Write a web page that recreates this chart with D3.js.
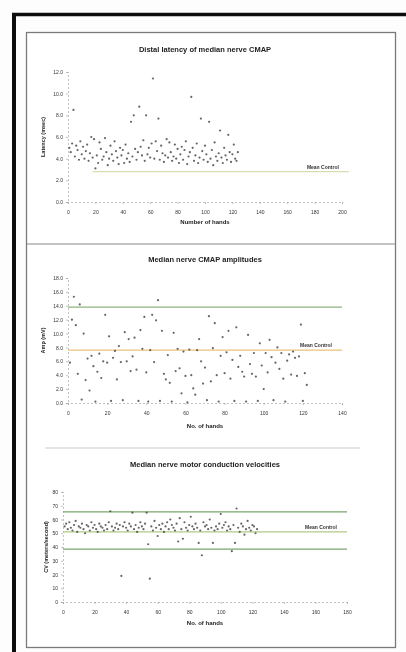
<!DOCTYPE html>
<html>
<head>
<meta charset="utf-8">
<script src="https://d3js.org/d3.v7.min.js"></script>
<style>
  body { margin: 0; background: #fff; font-family: "Liberation Sans", Arial, sans-serif; }
  .tick text { font-size: 5px; fill: #333; }
  .axis path, .axis line { stroke: #999; stroke-width: 0.6; }
</style>
</head>
<body>
<div id="chart"></div>
<script>
// ---- data ----
var latency = [5.0, 4.6, 5.4, 8.5, 4.2, 5.2, 4.8, 3.9, 5.6, 4.4,
  5.1, 4.0, 4.7, 5.3, 3.8, 4.5, 6.0, 4.1, 5.8, 3.1,
  4.3, 3.6, 5.5, 4.9, 3.9, 4.2, 5.9, 4.6, 3.4, 4.0,
  5.2, 4.4, 3.8, 5.6, 4.7, 4.1, 3.5, 5.0, 4.3, 4.8,
  3.6, 5.3, 4.0, 4.5, 3.7, 7.4, 4.2, 8.0, 4.9, 3.9,
  4.6, 8.8, 5.1, 4.3, 5.7, 3.8, 8.0, 4.4, 5.0, 4.1,
  5.4, 11.4, 4.0, 5.6, 4.7, 7.7, 3.9, 5.2, 4.5, 3.7,
  4.3, 5.8, 4.1, 5.5, 4.6, 3.8, 4.2, 5.3, 4.0, 4.9,
  3.6, 4.4, 5.1, 3.9, 4.8, 5.6, 3.5, 4.2, 4.6, 9.7,
  5.0, 3.8, 4.3, 5.4, 3.6, 4.1, 7.7, 4.7, 3.9, 5.2,
  4.4, 3.7, 7.4, 4.0, 4.8, 3.4, 5.5, 4.2, 3.8, 4.5,
  6.6, 4.1, 3.6, 5.0, 4.3, 3.9, 6.2, 4.6, 3.7, 4.4,
  5.3, 4.0, 3.8, 4.6];

var amplitude = [5.8, 12.0, 15.3, 11.2, 4.2, 14.2, 0.5, 10.0, 3.3, 6.4,
  1.8, 6.8, 5.3, 0.2, 4.5, 7.1, 3.6, 6.0, 12.7, 5.8,
  9.6, 0.3, 6.5, 7.5, 3.4, 8.2, 5.9, 0.4, 10.2, 6.0,
  9.2, 4.6, 6.7, 9.4, 4.8, 0.3, 10.5, 7.8, 12.4, 4.4,
  0.2, 7.6, 12.7, 5.9, 11.9, 14.8, 0.3, 10.4, 4.2, 3.4,
  6.9, 2.9, 0.2, 10.1, 4.6, 7.8, 5.0, 1.4, 7.4, 3.9,
  0.1, 7.7, 4.0, 2.1, 1.2, 7.6, 9.2, 6.0, 2.8, 5.1,
  0.4, 12.5, 3.1, 7.9, 11.5, 4.0, 0.2, 6.8, 9.5, 4.3,
  7.3, 10.4, 3.5, 6.2, 0.3, 10.9, 5.2, 6.8, 4.5, 3.8,
  0.2, 9.8, 5.6, 4.2, 7.2, 3.8, 0.3, 8.6, 5.4, 2.0,
  7.2, 4.4, 9.1, 6.6, 0.4, 5.8, 8.0, 4.9, 7.2, 3.5,
  0.2, 6.1, 7.0, 4.1, 7.4, 6.5, 3.9, 6.7, 11.3, 0.3,
  4.3, 2.6];

var velocity = [55, 57, 53, 58, 54, 52, 56, 59, 51, 55,
  54, 57, 53, 50, 56, 55, 52, 58, 54, 56,
  53, 51, 57, 55, 54, 52, 56, 53, 58, 66,
  55, 52, 54, 57, 53, 56, 19, 55, 58, 54,
  52, 57, 55, 65, 53, 56, 51, 54, 58, 55,
  53, 57, 65, 42, 17, 55, 52, 59, 54, 48,
  56, 53, 57, 51, 55, 58, 53, 60, 56, 54,
  52, 57, 44, 61, 53, 46, 58, 54, 52, 56,
  62, 55, 53, 57, 54, 43, 52, 34, 58, 55,
  56, 53, 60, 54, 43, 52, 55, 53, 57, 64,
  54, 56, 58, 52, 55, 53, 37, 56, 43, 68,
  54, 51, 57, 55, 49, 53, 59, 54, 52, 56,
  55, 50, 53];

var latencyTicks = [0, 2, 4, 6, 8, 10, 12];
var amplitudeTicks = [0, 2, 4, 6, 8, 10, 12, 14, 16, 18];
var velocityTicks = [0, 10, 20, 30, 40, 50, 60, 70, 80];
var hands200 = [0, 20, 40, 60, 80, 100, 120, 140, 160, 180, 200];
var hands140 = [0, 20, 40, 60, 80, 100, 120, 140];
var hands180 = [0, 20, 40, 60, 80, 100, 120, 140, 160, 180];

// reference lines: [value, colour]
var latencyLines = [[2.8, "#d3dfae"]];
var amplitudeLines = [[13.8, "#8fb37c"], [7.6, "#eac27a"]];
var velocityLines = [[65.5, "#7aa66d"], [51, "#b3c886"], [38.5, "#7aa66d"]];

var W = 406, H = 652;

var svg = d3.select("#chart").append("svg")
  .attr("width", W).attr("height", H);

// soft blur to mimic the scanned page
svg.append("defs").append("filter").attr("id", "scan")
  .append("feGaussianBlur").attr("stdDeviation", 0.55);

var page = svg.append("g").attr("filter", "url(#scan)");

// page frame
page.append("rect").attr("x", 0).attr("y", 0).attr("width", W).attr("height", H).attr("fill", "#fdfdfd");
page.append("line").attr("x1", 12).attr("x2", W).attr("y1", 14.5).attr("y2", 14.5)
  .attr("stroke", "#111").attr("stroke-width", 3.5);
page.append("line").attr("x1", 14).attr("x2", 14).attr("y1", 13).attr("y2", H)
  .attr("stroke", "#111").attr("stroke-width", 4);
page.append("rect").attr("x", 26.5).attr("y", 32.5).attr("width", 369).attr("height", 615)
  .attr("fill", "#fff").attr("stroke", "#7a7a7a").attr("stroke-width", 1.3);
page.append("line").attr("x1", 27).attr("x2", 396).attr("y1", 244).attr("y2", 244)
  .attr("stroke", "#888").attr("stroke-width", 1);
page.append("line").attr("x1", 45).attr("x2", 360).attr("y1", 448).attr("y2", 448)
  .attr("stroke", "#bbb").attr("stroke-width", 0.8);

function drawPanel(p) {
  var g = page.append("g");
  var x = d3.scaleLinear().domain(p.xDomain).range(p.xRange);
  var y = d3.scaleLinear().domain(p.yDomain).range(p.yRange);

  g.append("text").attr("x", 205).attr("y", p.titleY)
    .attr("text-anchor", "middle").attr("font-size", "7.5px").attr("font-weight", "bold")
    .attr("fill", "#222").text(p.title);

  g.append("g").attr("class", "axis")
    .attr("transform", "translate(" + p.xRange[0] + ",0)")
    .call(d3.axisLeft(y).tickValues(p.yTicks).tickSize(2).tickFormat(p.yFormat));

  g.append("g").attr("class", "axis")
    .attr("transform", "translate(0," + p.yRange[0] + ")")
    .call(d3.axisBottom(x).tickValues(p.xTicks).tickSize(2).tickPadding(6));

  g.selectAll(".axis .domain").attr("stroke-dasharray", "2,2");

  g.append("text").attr("transform", "translate(" + p.yTitleX + "," + (p.yRange[0] + p.yRange[1]) / 2 + ") rotate(-90)")
    .attr("text-anchor", "middle").attr("font-size", "5.5px").attr("font-weight", "bold")
    .attr("fill", "#222").text(p.yTitle);

  g.append("text").attr("x", 205).attr("y", p.xTitleY)
    .attr("text-anchor", "middle").attr("font-size", "6px").attr("font-weight", "bold")
    .attr("fill", "#222").text(p.xTitle);

  g.selectAll(".ref").data(p.lines).enter().append("line")
    .attr("x1", x(p.lineFrom)).attr("x2", x(p.lineTo))
    .attr("y1", function(d) { return y(d[0]); })
    .attr("y2", function(d) { return y(d[0]); })
    .attr("stroke", function(d) { return d[1]; })
    .attr("stroke-width", 1.2);

  g.append("text").attr("x", x(p.lineTo) - 10).attr("y", y(p.labelAt) - 3)
    .attr("text-anchor", "end").attr("font-size", "5px").attr("font-weight", "bold")
    .attr("fill", "#333").text("Mean Control");

  g.selectAll(".dot").data(p.values).enter().append("circle")
    .attr("cx", function(d, i) { return x(i + 1); })
    .attr("cy", function(d) { return y(d); })
    .attr("r", 1.1)
    .attr("fill", "#4a4a4a")
    .attr("fill-opacity", 0.85);
}

drawPanel({
  title: "Distal latency of median nerve CMAP", titleY: 52,
  xDomain: [0, 200], xRange: [68, 342], yDomain: [0, 12], yRange: [202, 72],
  xTicks: hands200, yTicks: latencyTicks, yFormat: d3.format(".1f"),
  yTitle: "Latency (msec)", yTitleX: 45,
  xTitle: "Number of hands", xTitleY: 224,
  lines: latencyLines, lineFrom: 18, lineTo: 205, labelAt: 2.8,
  values: latency
});

drawPanel({
  title: "Median nerve CMAP amplitudes", titleY: 262,
  xDomain: [0, 140], xRange: [68, 342], yDomain: [0, 18], yRange: [403, 278],
  xTicks: hands140, yTicks: amplitudeTicks, yFormat: d3.format(".1f"),
  yTitle: "Amp (mV)", yTitleX: 45,
  xTitle: "No. of hands", xTitleY: 428,
  lines: amplitudeLines, lineFrom: 0, lineTo: 140, labelAt: 7.6,
  values: amplitude
});

drawPanel({
  title: "Median nerve motor conduction velocities", titleY: 467,
  xDomain: [0, 180], xRange: [63, 347], yDomain: [0, 80], yRange: [602, 492],
  xTicks: hands180, yTicks: velocityTicks, yFormat: d3.format("d"),
  yTitle: "CV (meters/second)", yTitleX: 48,
  xTitle: "No. of hands", xTitleY: 625,
  lines: velocityLines, lineFrom: 0, lineTo: 180, labelAt: 51,
  values: velocity
});
</script>
</body>
</html>
